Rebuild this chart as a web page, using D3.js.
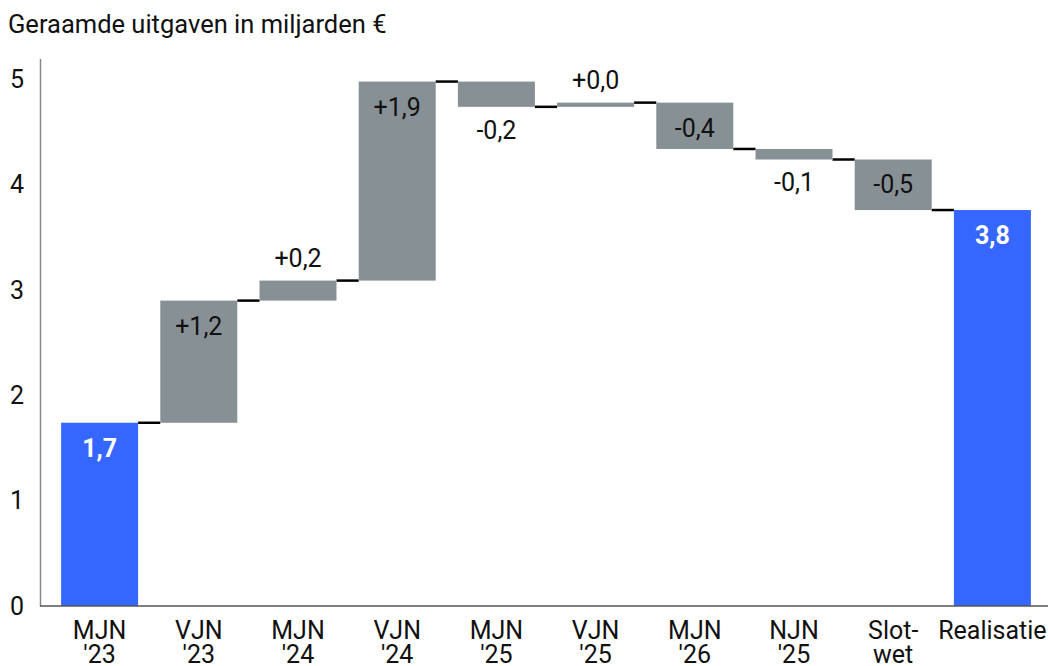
<!DOCTYPE html>
<html>
<head>
<meta charset="utf-8">
<script src="https://cdn.jsdelivr.net/npm/d3@7"></script>
<style>
  body { margin: 0; background: #fff; }
  svg { display: block; font-family: Roboto, sans-serif; }
</style>
</head>
<body>
<svg id="chart" width="1048" height="666"></svg>
<script>
// waterfall data (miljarden euro)
var categories = [["MJN", "'23"], ["VJN", "'23"], ["MJN", "'24"], ["VJN", "'24"], ["MJN", "'25"],
  ["VJN", "'25"], ["MJN", "'26"], ["NJN", "'25"], ["Slot-", "wet"], ["Realisatie"]];
var startValue = 1.74;
var deltas = [1.16, 0.19, 1.89, -0.24, 0.04, -0.44, -0.10, -0.48];
var endValue = 3.76;
var yTicks = [0, 1, 2, 3, 4, 5];

var svg = d3.select("#chart");
var blue = "#3567ff", grey = "#879094";
var fs = 25;

var x = d3.scaleBand()
  .domain(d3.range(categories.length))
  .range([50, 1042])
  .paddingInner(0.224)
  .paddingOuter(0.112);

var y = d3.scaleLinear().domain([0, 5.2]).range([606, 58.4]);

var fmt = v => v.toFixed(1).replace(".", ",");

// build the steps
var data = [{ i: 0, from: 0, to: startValue, total: true, label: fmt(startValue) }];
var level = startValue;
deltas.forEach(function (d, k) {
  data.push({ i: k + 1, from: level, to: level + d, total: false, delta: d,
    label: (d >= 0 ? "+" : "-") + fmt(Math.abs(d)) });
  level += d;
});
data.push({ i: categories.length - 1, from: 0, to: endValue, total: true, label: fmt(endValue) });

// title
svg.append("text")
  .attr("x", 8).attr("y", 33)
  .attr("font-size", 25.5).attr("fill", "#111")
  .text("Geraamde uitgaven in miljarden €");

// y axis
var yAxis = svg.append("g")
  .attr("transform", "translate(40,0)")
  .call(d3.axisLeft(y).tickValues(yTicks).tickSize(0).tickPadding(16).tickFormat(d3.format("d")));
yAxis.select(".domain").attr("stroke", "#888").attr("stroke-width", 1.5);
yAxis.selectAll("text").attr("font-size", fs).attr("fill", "#111").attr("font-family", "Roboto");

// connectors
var g = svg.append("g");
g.selectAll(".conn")
  .data(data.slice(0, data.length - 1))
  .enter().append("line")
  .attr("x1", d => x(d.i) + x.bandwidth())
  .attr("x2", d => x(d.i + 1))
  .attr("y1", d => y(d.to))
  .attr("y2", d => y(d.to))
  .attr("stroke", "#000").attr("stroke-width", 2.5);

// bars
g.selectAll(".bar")
  .data(data)
  .enter().append("rect")
  .attr("x", d => x(d.i))
  .attr("width", x.bandwidth())
  .attr("y", d => y(Math.max(d.from, d.to)))
  .attr("height", d => Math.abs(y(d.from) - y(d.to)))
  .attr("fill", d => d.total ? blue : grey);

// value labels
g.selectAll(".val")
  .data(data)
  .enter().append("text")
  .attr("x", d => x(d.i) + x.bandwidth() / 2)
  .attr("y", function (d) {
    var top = y(Math.max(d.from, d.to)), bottom = y(Math.min(d.from, d.to));
    if (bottom - top > 40) return top + 34;
    return d.delta >= 0 ? top - 14 : bottom + 32;
  })
  .attr("text-anchor", "middle")
  .attr("font-size", fs)
  .attr("font-weight", d => d.total ? 700 : 400)
  .attr("fill", d => d.total ? "#fff" : "#111")
  .text(d => d.label);

// x axis
svg.append("line")
  .attr("x1", 40).attr("x2", 1048)
  .attr("y1", y(0)).attr("y2", y(0))
  .attr("stroke", "#555").attr("stroke-width", 1.5);

var xl = svg.append("g").selectAll("text")
  .data(categories)
  .enter().append("text")
  .attr("x", (d, i) => x(i) + x.bandwidth() / 2)
  .attr("y", 639)
  .attr("text-anchor", "middle")
  .attr("font-size", fs)
  .attr("fill", "#111");
xl.selectAll("tspan")
  .data(d => d)
  .enter().append("tspan")
  .attr("x", function () { return d3.select(this.parentNode).attr("x"); })
  .attr("dy", (d, k) => k === 0 ? 0 : 24)
  .text(d => d);
</script>
</body>
</html>
